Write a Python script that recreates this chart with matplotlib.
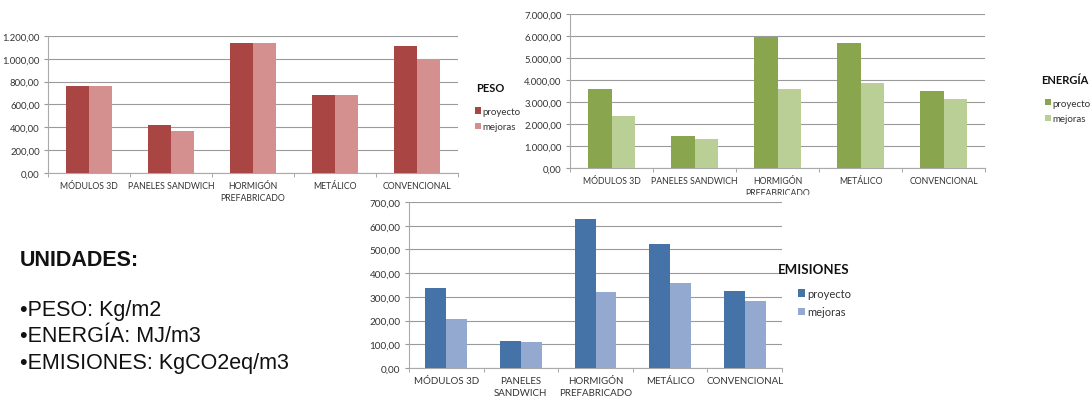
import matplotlib
matplotlib.use("Agg")
import matplotlib.pyplot as plt
import numpy as np

categorias = ["MÓDULOS 3D", "PANELES SANDWICH", "HORMIGÓN\nPREFABRICADO", "METÁLICO", "CONVENCIONAL"]
categorias_emis = ["MÓDULOS 3D", "PANELES\nSANDWICH", "HORMIGÓN\nPREFABRICADO", "METÁLICO", "CONVENCIONAL"]

peso_proyecto = [763, 419, 1135, 681, 1112]
peso_mejoras = [763, 364, 1135, 681, 1001]

energia_proyecto = [3570, 1450, 5950, 5690, 3500]
energia_mejoras = [2360, 1320, 3600, 3870, 3150]

emis_proyecto = [338, 112, 627, 522, 325]
emis_mejoras = [206, 108, 321, 357, 284]

W, H = 1092, 402
plt.rcParams['font.family'] = ['Lato', 'DejaVu Sans']


def fmt(v):
    s = f"{v:,.2f}"
    return s.replace(",", "X").replace(".", ",").replace("X", ".")


def rect(left, top, right, bottom):
    return [left / W, 1 - bottom / H, (right - left) / W, (bottom - top) / H]


def chart(fig, box, cats, proy, mej, colors, ymax, step, fs, cfs,
          title, title_xy, title_fs, leg_xy, leg_fs, leg_sp):
    ax = fig.add_axes(rect(*box))
    x = np.arange(len(cats))
    w = 0.28
    b1 = ax.bar(x - w / 2, proy, w, color=colors[0], label="proyecto", zorder=3)
    b2 = ax.bar(x + w / 2, mej, w, color=colors[1], label="mejoras", zorder=3)
    ax.set_xlim(-0.5, len(cats) - 0.5)
    ax.set_ylim(0, ymax)
    yt = np.arange(0, ymax + 1, step)
    ax.set_yticks(yt)
    ax.set_yticklabels([fmt(v) for v in yt], fontsize=fs, color="#333333")
    ax.set_xticks(x)
    ax.set_xticklabels(cats, fontsize=cfs, color="#333333", linespacing=1.4)
    ax.set_xticks(np.arange(-0.5, len(cats)), minor=True)
    ax.tick_params(axis="x", which="major", length=0, pad=6)
    ax.tick_params(axis="x", which="minor", length=3, color="#999999")
    ax.tick_params(axis="y", length=3, color="#999999", pad=3)
    ax.grid(axis="y", color="#9a9a9a", linewidth=0.8, zorder=0)
    for s in ["top", "right"]:
        ax.spines[s].set_visible(False)
    for s in ["left", "bottom"]:
        ax.spines[s].set_color("#aaaaaa")
        ax.spines[s].set_linewidth(0.8)
    fig.text(title_xy[0] / W, 1 - title_xy[1] / H, title, fontsize=title_fs,
             fontweight="bold", va="center", ha="left", color="#111111")
    leg = ax.legend(handles=[b1, b2], loc="center left",
                    bbox_to_anchor=(leg_xy[0] / W, 1 - leg_xy[1] / H),
                    bbox_transform=fig.transFigure, frameon=False,
                    fontsize=leg_fs, handlelength=0.6, handleheight=0.6,
                    handletextpad=0.2, labelspacing=leg_sp, borderpad=0,
                    borderaxespad=0)
    for t in leg.get_texts():
        t.set_color("#333333")
    return ax


fig = plt.figure(figsize=(W / 100, H / 100), dpi=100)
fig.patch.set_facecolor("white")

chart(fig, (570, 15, 985, 169), categorias, energia_proyecto, energia_mejoras,
      ("#89A54E", "#B9CF96"), 7000, 1000, 6.8, 6.3,
      "ENERGÍA", (1041, 80), 8, (1045, 112), 7, 0.7)
chart(fig, (48, 37, 458, 174), categorias, peso_proyecto, peso_mejoras,
      ("#A94543", "#D4908E"), 1200, 200, 6.8, 6.3,
      "PESO", (476, 88), 8, (475, 120), 7, 0.65)

# white backdrop so the lower chart hides the clipped label above it
fig.patches.append(plt.Rectangle((360 / W, 0), 470 / W, 1 - 196 / H,
                                 transform=fig.transFigure, color="white",
                                 zorder=1))
ax3 = chart(fig, (409, 203, 782, 369), categorias_emis, emis_proyecto, emis_mejoras,
            ("#4572A7", "#93A9D0"), 700, 100, 7.2, 7,
            "EMISIONES", (778, 270), 9.5, (798, 303.5), 8, 0.65)
ax3.set_zorder(2)

fig.text(20 / W, 1 - 260 / H, "UNIDADES:", fontsize=15.5, fontweight="bold",
         family="Liberation Sans", va="center", color="#111111")
for i, t in enumerate(["•PESO: Kg/m2", "•ENERGÍA: MJ/m3", "•EMISIONES: KgCO2eq/m3"]):
    fig.text(20 / W, 1 - (311 + 26 * i) / H, t, fontsize=15.5,
             family="Liberation Sans", va="center", color="#111111")

fig.savefig("out.png", dpi=100)
